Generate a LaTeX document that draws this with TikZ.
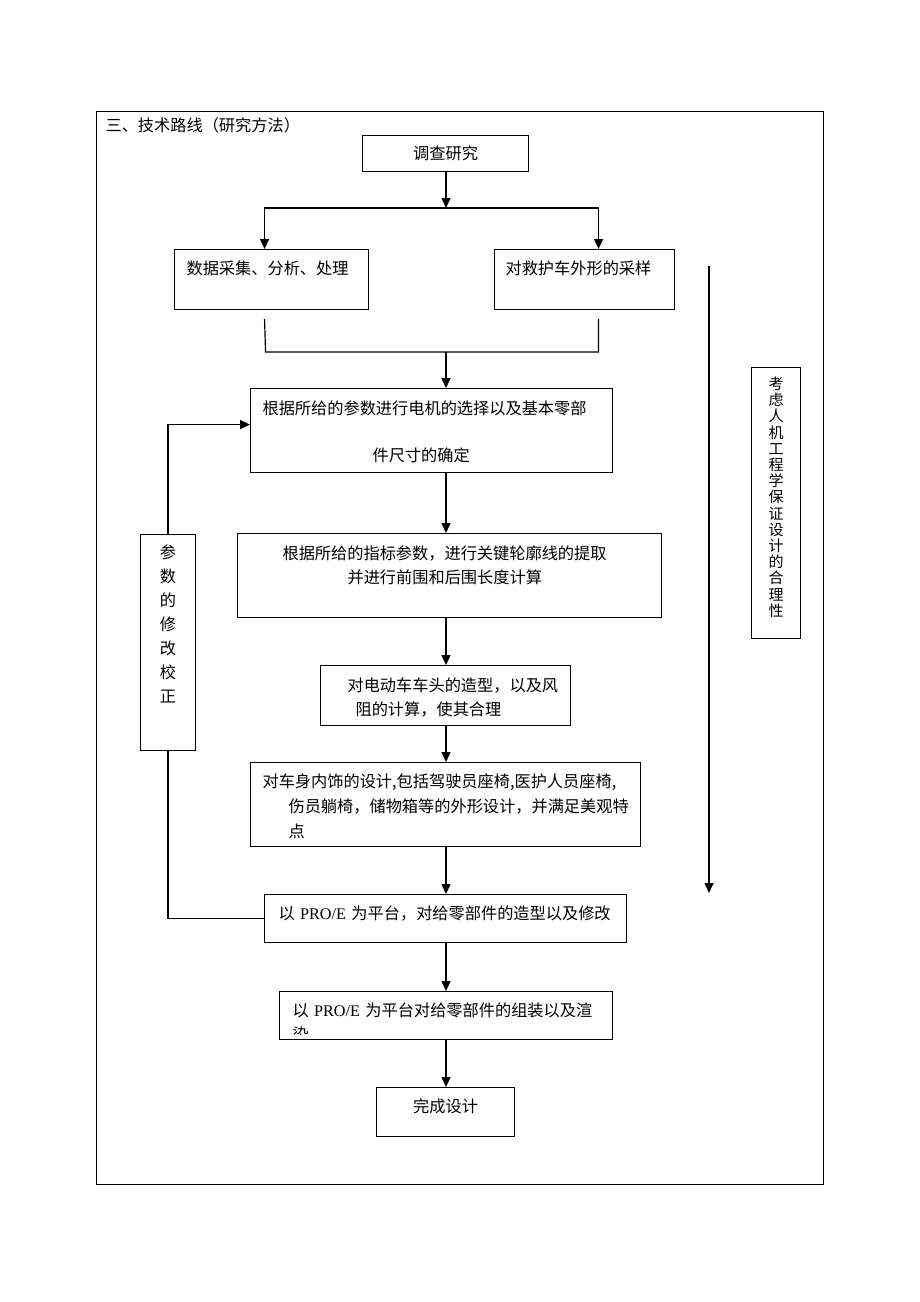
\documentclass[tikz,border=0pt]{standalone}
\usepackage{fontspec}
\setmainfont{Noto Sans CJK SC}
\newfontfamily\latinfont{Liberation Serif}
\usetikzlibrary{arrows.meta}

\begin{document}
\begin{tikzpicture}[x = 1pt, y = -1pt, line width = 1.1pt, font = \fontsize{16.2}{24}\selectfont, box/.style = {draw, anchor = north west, inner xsep = 0pt, inner ysep = 0pt, align = left}, flow/.style = {line width = 1.5pt, -{Triangle[length = 10pt, width = 9pt]}}, joint/.style = {line width = 1.2pt}]
        \useasboundingbox (0,0) rectangle (920,1302);
        \draw[line width = 0.9pt] (96,111) rectangle (823,1184);
        \node[anchor = west, inner sep = 0pt] (title) at (105,125) {三、技术路线（研究方法）};

        \node[box, text width = 166pt, text height = 24pt, text depth = 12pt, align = center] (survey) at (362,135) {调查研究};
        \node[box, text width = 194pt, text height = 25pt, text depth = 35pt] (collect) at (174,249) {\hspace*{12pt}数据采集、分析、处理};
        \node[box, text width = 180pt, text height = 25pt, text depth = 35pt] (sample) at (494,249) {\hspace*{11pt}对救护车外形的采样};
        \node[box, text width = 362pt, text height = 26pt, text depth = 58pt] (motor) at (250,388) {\hspace*{12pt}根据所给的参数进行电机的选择以及基本零部\\[23pt]\hspace*{122pt}件尺寸的确定};
        \node[box, text width = 424pt, text height = 26pt, text depth = 58pt] (contour) at (237,533) {\hspace*{45pt}根据所给的指标参数，进行关键轮廓线的提取\\\hspace*{110pt}并进行前围和后围长度计算};
        \node[box, text width = 250pt, text height = 26pt, text depth = 34pt] (front) at (320,665) {\hspace*{27pt}对电动车车头的造型，以及风\\\hspace*{35pt}阻的计算，使其合理};
        \node[box, text width = 390pt, text height = 25pt, text depth = 59pt, font = \fontsize{16.2}{25}\selectfont] (interior) at (250,762) {\hspace*{12pt}对车身内饰的设计,包括驾驶员座椅,医护人员座椅,\\\hspace*{38pt}伤员躺椅，储物箱等的外形设计，并满足美观特\\\hspace*{38pt}点};
        \node[box, text width = 362pt, text height = 25pt, text depth = 23pt] (model) at (264,894) {\hspace*{14pt}以 {\latinfont PRO/E} 为平台，对给零部件的造型以及修改};
        \node[box, text width = 333pt, text height = 25pt, text depth = 23pt] (render) at (279,991) {\hspace*{13pt}以 {\latinfont PRO/E} 为平台对给零部件的组装以及渲};
        \begin{scope}
            \clip (render.north west) rectangle ([yshift = 6pt]render.south east);
            \node[anchor = base west, inner sep = 0pt] (renderrest) at ([shift = {(13pt,-49pt)}]render.north west) {染};
        \end{scope}
        \node[box, text width = 138pt, text height = 25pt, text depth = 24pt, align = center] (done) at (376,1087) {完成设计};

        \node[box, text width = 55pt, text height = 24pt, text depth = 192pt, align = center] (revise) at (140,534) {参\\数\\的\\修\\改\\校\\正};
        \node[box, text width = 49pt, text height = 22pt, text depth = 249pt, align = center, font = \fontsize{15}{16.2}\selectfont] (ergo) at (751,367) {考\\虑\\人\\机\\工\\程\\学\\保\\证\\设\\计\\的\\合\\理\\性};

        \coordinate (spine) at (446,0);
        \coordinate (split) at (446,208);
        \coordinate (merge) at (446,352);
        \coordinate (ergotop) at (709,266);
        \coordinate (ergoend) at (709,893);

        \draw[flow] (survey.south -| spine) -- (split);
        \draw[flow] (split) -| ([xshift = -7pt]collect.north);
        \draw[flow] (split) -| ([xshift = 14pt]sample.north);
        \draw[joint] ([shift = {(-7pt,-9pt)}]collect.south) -- ([xshift = -6pt]collect.south |- merge) -- ([xshift = 14pt]sample.south |- merge) -- ([shift = {(14pt,-9pt)}]sample.south);
        \draw[flow] (merge) -- (motor.north -| spine);
        \draw[flow] (motor.south -| spine) -- (contour.north -| spine);
        \draw[flow] (contour.south -| spine) -- (front.north -| spine);
        \draw[flow] (front.south -| spine) -- (interior.north -| spine);
        \draw[flow] (interior.south -| spine) -- (model.north -| spine);
        \draw[flow] (model.south -| spine) -- (render.north -| spine);
        \draw[flow] (render.south -| spine) -- (done.north -| spine);
        \draw[joint] (model.west) -| (revise.south);
        \draw[flow] (revise.north) |- ([yshift = 6pt]motor.west);
        \draw[flow] (ergotop) -- (ergoend);
    \end{tikzpicture}
\end{document}
